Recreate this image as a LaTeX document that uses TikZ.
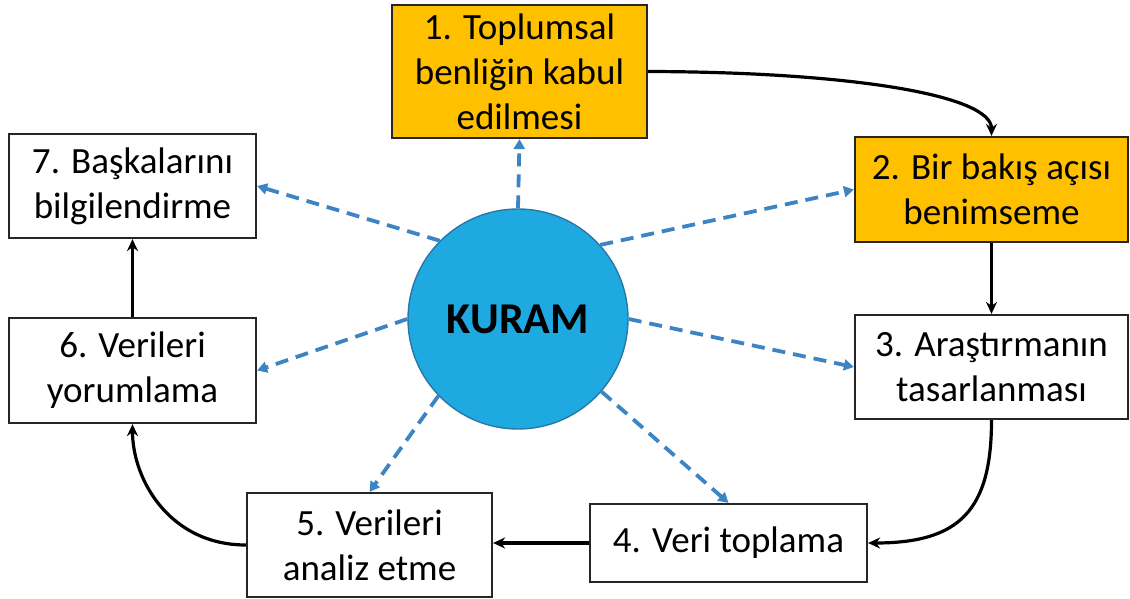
\documentclass[tikz,border=0pt]{standalone}
\usepackage{fontspec}
\setmainfont{Carlito}
\usetikzlibrary{arrows.meta}

\definecolor{stepOrange}{HTML}{FFC000}
\definecolor{coreBlue}{HTML}{1EA9E1}
\definecolor{coreEdge}{HTML}{2A77A6}
\definecolor{linkBlue}{HTML}{3D84C4}
\definecolor{edgeGray}{HTML}{262626}

\begin{document}
\begin{tikzpicture}[x=1pt,y=-1pt,
  stepbox/.style={draw=edgeGray, line width=2.2pt, fill=white, align=center,
    inner sep=0pt, font=\fontsize{37}{45}\selectfont},
  keybox/.style={stepbox, fill=stepOrange},
  flow/.style={draw=black, line width=3.2pt, -{Stealth[length=12pt,width=11pt]}},
  link/.style={draw=linkBlue, line width=3.8pt, dash pattern=on 13pt off 8pt,
    -{Triangle[length=10pt,width=11pt]}},
]
\useasboundingbox (0,0) rectangle (1130,599);

% process steps
\node[keybox, minimum width=255pt, minimum height=133pt] (b1) at (519.5,71.5)
  {1. Toplumsal\\benliğin kabul\\edilmesi};
\node[keybox, minimum width=273pt, minimum height=105pt] (b2) at (991.5,189.5)
  {2. Bir bakış açısı\\benimseme};
\node[stepbox, minimum width=273pt, minimum height=104pt] (b3) at (991.5,367)
  {3. Araştırmanın\\tasarlanması};
\node[stepbox, minimum width=277pt, minimum height=78pt] (b4) at (728.5,543)
  {4. Veri toplama};
\node[stepbox, minimum width=245pt, minimum height=104pt] (b5) at (369.5,545)
  {5. Verileri\\analiz etme};
\node[stepbox, minimum width=247pt, minimum height=105pt] (b6) at (132.5,370.5)
  {6. Verileri\\yorumlama};
\node[stepbox, minimum width=247pt, minimum height=104pt] (b7) at (132.5,186)
  {7. Başkalarını\\bilgilendirme};

% central theory
\node[circle, fill=coreBlue, draw=coreEdge, line width=1.4pt, minimum size=220pt,
  inner sep=0pt, font=\fontsize{44}{50}\selectfont\bfseries] (k) at (518,319) {KURAM};

% influence of the theory on every step
\draw[link] (k.90)   -- (b1.south);
\draw[link] (k.42)   -- (b2.west);
\draw[link] (k.0)    -- (b3.west);
\draw[link] (k.-41)  -- (b4.north);
\draw[link] (k.-136) -- (b5.north);
\draw[link] (k.180)  -- (b6.east);
\draw[link] (k.135)  -- (b7.east);

% research cycle
\draw[flow] (b1.east) .. controls (850,72) and (991.5,95) .. (b2.north);
\draw[flow] (b2.south) -- (b3.north);
\draw[flow] (b3.south) .. controls (991.5,510) and (960,543) .. (b4.east);
\draw[flow] (b4.west) -- (b5.east |- b4.west);
\draw[flow] (b5.west) .. controls (170,545) and (132.5,480) .. (b6.south);
\draw[flow] (b6.north) -- (b7.south);
\end{tikzpicture}
\end{document}
